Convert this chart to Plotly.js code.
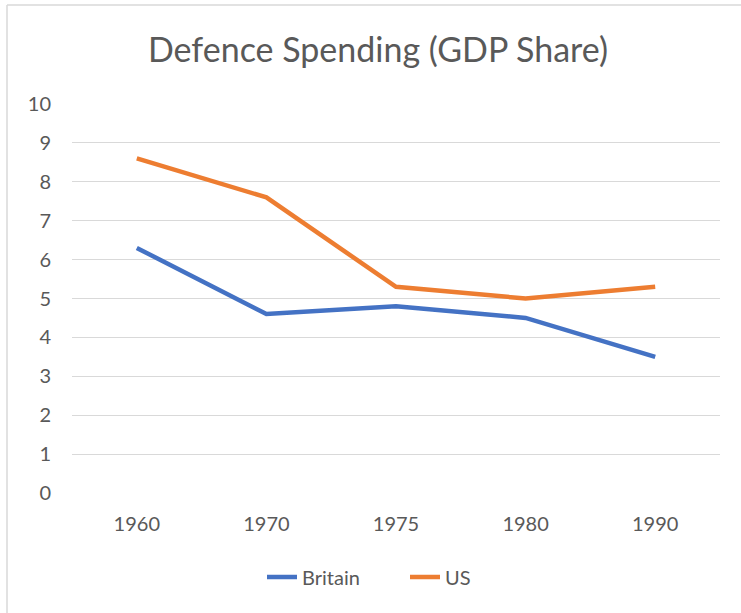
<!DOCTYPE html>
<html>
<head>
<meta charset="utf-8">
<script src="https://cdn.plot.ly/plotly-3.0.1.min.js"></script>
<style>
  html, body { margin: 0; padding: 0; background: #ffffff; }
  #chart { width: 741px; height: 613px; }
</style>
</head>
<body>
<div id="chart"></div>
<script>
const years = ["1960", "1970", "1975", "1980", "1990"];
const britain = [6.3, 4.6, 4.8, 4.5, 3.5];
const us = [8.6, 7.6, 5.3, 5.0, 5.3];
const yTicks = [0, 1, 2, 3, 4, 5, 6, 7, 8, 9, 10];

const FONT = "Lato, 'Open Sans', sans-serif";
const TEXT = "#595959";
const GRID = "#D9D9D9";

const traces = [
  { type: "scatter", mode: "lines", name: "Britain", x: years, y: britain,
    line: { color: "#4472C4", width: 4.5 }, hoverinfo: "x+y+name" },
  { type: "scatter", mode: "lines", name: "US", x: years, y: us,
    line: { color: "#ED7D31", width: 4.5 }, hoverinfo: "x+y+name" }
];

const layout = {
  width: 741, height: 613,
  paper_bgcolor: "#ffffff", plot_bgcolor: "#ffffff",
  margin: { l: 72, r: 21, t: 104, b: 120, pad: 0 },
  font: { family: FONT, color: TEXT, size: 20 },
  title: {
    text: "Defence Spending (GDP Share)",
    font: { family: FONT, size: 34, color: TEXT },
    xref: "container", x: 378 / 741, xanchor: "center",
    yref: "container", y: 1 - 50 / 613, yanchor: "middle"
  },
  xaxis: {
    type: "category",
    range: [-0.5, years.length - 0.5],
    tickvals: years, ticktext: years,
    showgrid: false, zeroline: false,
    showline: false, ticks: "",
    ticklabelstandoff: 17,
    tickfont: { family: FONT, size: 20, color: TEXT },
    fixedrange: true
  },
  yaxis: {
    range: [0, 10],
    tickvals: yTicks, ticktext: yTicks.map(String),
    showgrid: true, gridcolor: GRID, gridwidth: 1.3,
    zeroline: false, showline: false, ticks: "",
    ticklabelstandoff: 20,
    tickfont: { family: FONT, size: 20, color: TEXT },
    fixedrange: true
  },
  showlegend: true,
  legend: {
    orientation: "h",
    x: 405 / 741, xref: "container", xanchor: "center",
    y: 1 - 577 / 613, yref: "container", yanchor: "middle",
    entrywidth: 98, entrywidthmode: "pixels",
    font: { family: FONT, size: 20, color: TEXT },
    bgcolor: "rgba(0,0,0,0)",
    itemclick: false, itemdoubleclick: false
  },
  shapes: [
    { type: "line", xref: "paper", yref: "paper",
      x0: (7 - 72) / 648, x1: (7 - 72) / 648,
      y0: (493 - 5) / 389, y1: (493 - 640) / 389,
      line: { color: GRID, width: 1.5 } },
    { type: "line", xref: "paper", yref: "paper",
      x0: (7 - 72) / 648, x1: (760 - 72) / 648,
      y0: (493 - 5) / 389, y1: (493 - 5) / 389,
      line: { color: GRID, width: 1.5 } }
  ]
};

Plotly.newPlot("chart", traces, layout, { displayModeBar: false, staticPlot: false });
</script>
</body>
</html>
